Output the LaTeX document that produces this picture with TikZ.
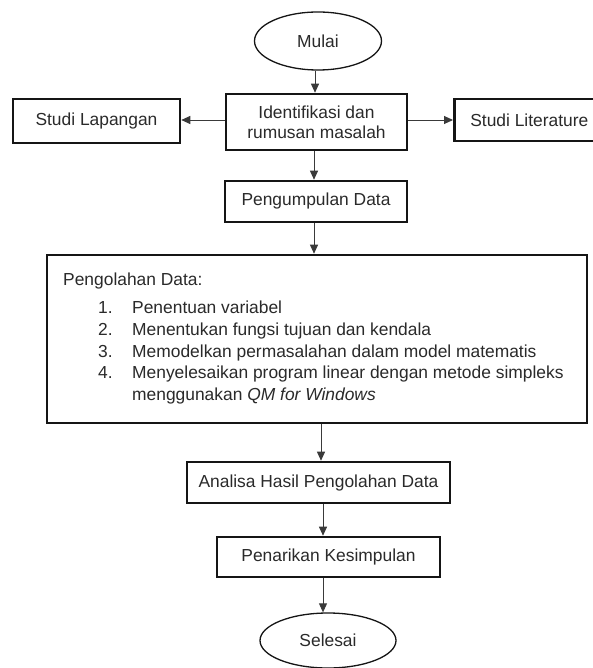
\documentclass[tikz,border=0pt]{standalone}
\usepackage{fontspec}
\setmainfont{Liberation Sans}
\usetikzlibrary{shapes.geometric,arrows.meta}
\definecolor{txt}{HTML}{2A2A2A}
\definecolor{edge}{HTML}{151515}
\definecolor{conn}{HTML}{3A3A3A}
\begin{document}
\begin{tikzpicture}[x=1pt,y=-1pt,
  every node/.style={text=txt,font=\fontsize{17.4}{21}\selectfont},
  boxnode/.style={draw=edge,line width=2.6pt,rectangle,inner sep=0pt,align=center},
  ovalnode/.style={draw=edge,line width=1.3pt,ellipse,inner sep=0pt},
  linetext/.style={anchor=west,inner sep=0pt,text height=12.5pt,text depth=3.5pt},
  conarrow/.style={draw=conn,line width=0.9pt,-{Triangle[length=9pt,width=8pt]}}
]
\useasboundingbox (0,0) rectangle (593,668);
\fill[white] (0,0) rectangle (593,668);

\node[ovalnode,minimum width=127pt,minimum height=58pt] (mulai) at (318,41) {Mulai};
\node[boxnode,minimum width=181pt,minimum height=56pt] (ident) at (316.5,122) {Identifikasi dan\\[-1pt]rumusan masalah};
\node[boxnode,minimum width=167pt,minimum height=44pt] (lap) at (96.5,121) {Studi Lapangan};
\node[boxnode,minimum width=148pt,minimum height=42pt,anchor=west] (lit) at (453,120) {\hspace*{2pt}Studi Literature};
\node[boxnode,minimum width=182pt,minimum height=41pt] (kumpul) at (316,201.5) {Pengumpulan Data};
\node[boxnode,minimum width=540pt,minimum height=168pt] (olah) at (317,339) {};
\node[boxnode,minimum width=263pt,minimum height=41pt] (analisa) at (318.5,482.5) {Analisa Hasil Pengolahan Data};
\node[boxnode,minimum width=223pt,minimum height=40pt] (tarik) at (328.5,557) {Penarikan Kesimpulan};
\node[ovalnode,minimum width=136pt,minimum height=55pt] (selesai) at (328,640.5) {Selesai};

\node[linetext] (t0) at (63,281) {Pengolahan Data:};
\node[linetext] (n1) at (98,309) {1.};
\node[linetext] (l1) at (132,309) {Penentuan variabel};
\node[linetext] (n2) at (98,331) {2.};
\node[linetext] (l2) at (132,331) {Menentukan fungsi tujuan dan kendala};
\node[linetext] (n3) at (98,352.5) {3.};
\node[linetext] (l3) at (132,352.5) {Memodelkan permasalahan dalam model matematis};
\node[linetext] (n4) at (98,374) {4.};
\node[linetext] (l4) at (132,374) {Menyelesaikan program linear dengan metode simpleks};
\node[linetext] (l5) at (132,395.5) {menggunakan \textit{QM for Windows}};

\draw[conarrow] (mulai.south -| 315,0) -- (ident.north -| 315,0);
\draw[conarrow] (ident.west |- 0,120) -- (lap.east |- 0,120);
\draw[conarrow] (ident.east |- 0,120) -- (lit.west);
\draw[conarrow] (ident.south -| 314,0) -- (kumpul.north -| 314,0);
\draw[conarrow] (kumpul.south -| 314,0) -- (olah.north -| 314,0);
\draw[conarrow] (olah.south -| 321,0) -- (analisa.north -| 321,0);
\draw[conarrow] (analisa.south -| 323,0) -- (tarik.north -| 323,0);
\draw[conarrow] (tarik.south -| 323,0) -- (selesai.north -| 323,0);
\end{tikzpicture}
\end{document}
